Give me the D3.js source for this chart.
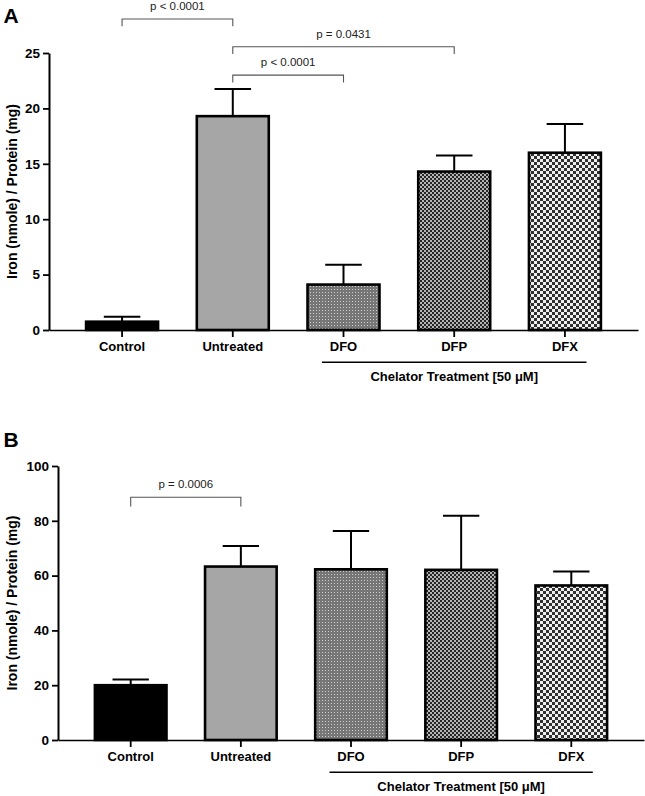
<!DOCTYPE html>
<html>
<head>
<meta charset="utf-8">
<script src="https://cdn.jsdelivr.net/npm/d3@7"></script>
<style>
  html, body { margin: 0; padding: 0; background: #fff; }
  svg { display: block; }
  text { font-family: "Liberation Sans", Arial, Helvetica, sans-serif; }
</style>
</head>
<body>
<svg id="chart" width="645" height="796"></svg>
<script>
// ---------- data ----------
const categories = ["Control", "Untreated", "DFO", "DFP", "DFX"];
const meanA = [0.75, 19.3, 4.1, 14.3, 16.0];
const errA  = [0.45, 2.45, 1.8, 1.45, 2.6];
const meanB = [20.0, 63.3, 62.3, 62.1, 56.4];
const errB  = [2.1, 7.5, 14.0, 19.7, 5.1];
const ticksA = [0, 5, 10, 15, 20, 25];
const ticksB = [0, 20, 40, 60, 80, 100];
// brackets: [from, to, level (data units), label]
const bracketsA = [
  ["Control", "Untreated", 28.07, "p < 0.0001"],
  ["Untreated", "DFP", 25.57, "p = 0.0431"],
  ["Untreated", "DFO", 23.0, "p < 0.0001"]
];
const bracketsB = [
  ["Control", "Untreated", 88.6, "p = 0.0006"]
];
const groupCats = ["DFO", "DFX"];
const groupLabel = "Chelator Treatment [50 \u03BCM]";
const yLabel = "Iron (nmole) / Protein (mg)";

const svg = d3.select("#chart");
const defs = svg.append("defs");

// patterns
function pattern(id, w, h, bg, fg, rects) {
  const p = defs.append("pattern").attr("id", id).attr("patternUnits", "userSpaceOnUse")
    .attr("width", w).attr("height", h);
  p.append("rect").attr("width", w).attr("height", h).attr("fill", bg);
  rects.forEach(r => p.append("rect").attr("x", r[0]).attr("y", r[1]).attr("width", r[2]).attr("height", r[3]).attr("fill", fg));
}
pattern("pDFO", 3, 3, "#767676", "#cccccc", [[1, 1, 1, 1]]);
pattern("pDFP", 4, 4, "#b4b4b4", "#262626", [[0, 0, 2, 2], [2, 2, 2, 2]]);
pattern("pDFX", 6, 6, "#efefef", "#303030", [[0, 0, 3, 3], [3, 3, 3, 3]]);
const fills = {Control: "#000000", Untreated: "#a6a6a6", DFO: "url(#pDFO)", DFP: "url(#pDFP)", DFX: "url(#pDFX)"};

function drawPanel(cfg) {
  const g = svg.append("g");
  const x = d3.scaleBand().domain(categories).range(cfg.xRange)
    .paddingInner(0.35).paddingOuter(0.335);
  const y = d3.scaleLinear().domain(cfg.yDomain).range(cfg.yRange);
  const step = x.step();
  const cx = c => x(c) + x.bandwidth() / 2;
  const y0 = y(0);

  // x axis
  const xAxis = g.append("g").attr("transform", `translate(0,${y0})`)
    .call(d3.axisBottom(x).tickSize(7).tickSizeOuter(0).tickPadding(5));
  xAxis.select(".domain").attr("stroke", "#000").attr("stroke-width", 1.6);
  xAxis.selectAll(".tick line").attr("stroke", "#000").attr("stroke-width", 1.8);
  xAxis.selectAll("text").attr("fill", "#000").style("font-size", "13px").style("font-weight", "bold")
    .style("font-family", '"Liberation Sans", Arial, sans-serif');

  // bars
  g.selectAll("rect.bar").data(categories).enter().append("rect")
    .attr("class", "bar")
    .attr("x", d => x(d)).attr("width", x.bandwidth())
    .attr("y", (d, i) => y(cfg.mean[i]))
    .attr("height", (d, i) => y0 - y(cfg.mean[i]))
    .attr("fill", d => fills[d]).attr("stroke", "#000").attr("stroke-width", 2.6);

  // error bars (upper)
  const capW = step * 0.33;
  categories.forEach((c, i) => {
    const top = y(cfg.mean[i] + cfg.err[i]);
    g.append("line").attr("x1", cx(c)).attr("x2", cx(c))
      .attr("y1", y(cfg.mean[i])).attr("y2", top).attr("stroke", "#000").attr("stroke-width", 2);
    g.append("line").attr("x1", cx(c) - capW / 2).attr("x2", cx(c) + capW / 2)
      .attr("y1", top).attr("y2", top).attr("stroke", "#000").attr("stroke-width", 2);
  });

  // y axis
  const yAxis = g.append("g").attr("transform", `translate(${cfg.xRange[0]},0)`)
    .call(d3.axisLeft(y).tickValues(cfg.ticks).tickSize(6).tickSizeOuter(0).tickPadding(3));
  yAxis.select(".domain").attr("stroke", "#000").attr("stroke-width", 2);
  yAxis.selectAll(".tick line").attr("stroke", "#000").attr("stroke-width", 1.8);
  yAxis.selectAll("text").attr("fill", "#000").style("font-size", "13.5px").style("font-weight", "bold")
    .style("font-family", '"Liberation Sans", Arial, sans-serif');

  // y label
  const ym = (cfg.yRange[0] + cfg.yRange[1]) / 2;
  g.append("text").attr("transform", `translate(16.5,${ym}) rotate(-90)`)
    .attr("text-anchor", "middle").style("font-size", "14px").style("font-weight", "bold")
    .attr("fill", "#000").text(yLabel);

  // panel letter
  g.append("text").attr("x", 3.5).attr("y", cfg.letterY).style("font-size", "21px")
    .style("font-weight", "bold").attr("fill", "#000").text(cfg.letter);

  // significance brackets
  cfg.brackets.forEach(b => {
    const x1 = cx(b[0]), x2 = cx(b[1]), ly = y(b[2]);
    g.append("path").attr("d", `M${x1},${ly + cfg.drop}V${ly}H${x2}V${ly + cfg.drop}`)
      .attr("fill", "none").attr("stroke", "#555").attr("stroke-width", 1.1);
    g.append("text").attr("x", (x1 + x2) / 2).attr("y", ly - 9).attr("text-anchor", "middle")
      .style("font-size", "11.5px").attr("fill", "#222").text(b[3]);
  });

  // chelator group
  const gx1 = cx(groupCats[0]) - step * 0.195, gx2 = cx(groupCats[1]) + step * 0.195;
  g.append("line").attr("x1", gx1).attr("x2", gx2).attr("y1", y0 + 32.2).attr("y2", y0 + 32.2)
    .attr("stroke", "#000").attr("stroke-width", 1.5);
  g.append("text").attr("x", cx("DFP")).attr("y", y0 + 51.3).attr("text-anchor", "middle")
    .style("font-size", "13px").style("font-weight", "bold").attr("fill", "#000").text(groupLabel);
}

drawPanel({
  letter: "A", letterY: 22.7,
  xRange: [49, 638], yDomain: [0, 25], yRange: [330, 53],
  mean: meanA, err: errA, ticks: ticksA, brackets: bracketsA, drop: 7.3
});
drawPanel({
  letter: "B", letterY: 446.7,
  xRange: [58, 644], yDomain: [0, 100], yRange: [740, 466],
  mean: meanB, err: errB, ticks: ticksB, brackets: bracketsB, drop: 9.3
});
</script>
</body>
</html>
